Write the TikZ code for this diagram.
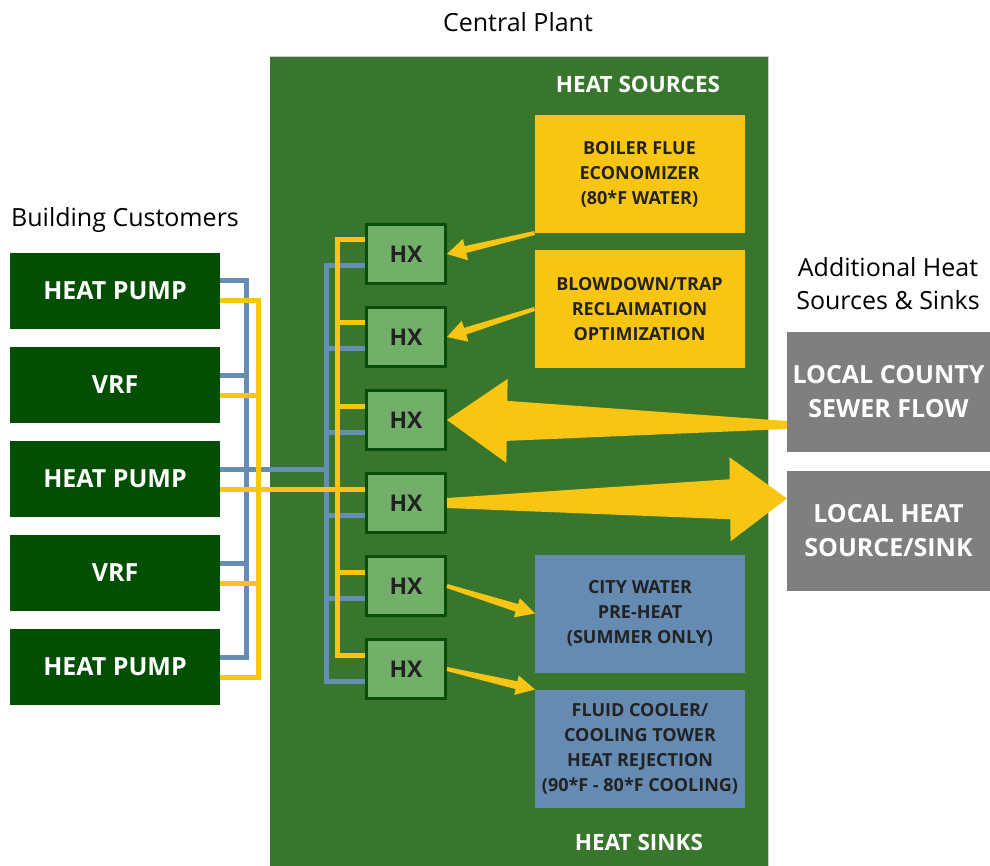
\documentclass[tikz,border=0pt]{standalone}
\usepackage{fontspec}
\setmainfont{Open Sans}
\usetikzlibrary{calc,positioning}

\definecolor{plantgreen}{RGB}{56,118,45}
\definecolor{custgreen}{RGB}{2,78,2}
\definecolor{hxfill}{RGB}{114,176,106}
\definecolor{hxborder}{RGB}{8,78,8}
\definecolor{heatyellow}{RGB}{248,198,18}
\definecolor{sinkblue}{RGB}{101,139,178}
\definecolor{pipeblue}{RGB}{102,142,180}
\definecolor{outgray}{RGB}{127,127,127}
\definecolor{textdark}{RGB}{34,34,34}

% tapered arrow: tail, tip, tail half width, shaft half width, head half width, head length
\newcommand{\fatarrow}[6]{%
  \path (#1) coordinate (fa-t) (#2) coordinate (fa-h);
  \path ($(fa-h)!#6pt!(fa-t)$) coordinate (fa-b);
  \fill[heatyellow]
    ($(fa-t)!#3pt!90:(fa-h)$) -- ($(fa-b)!#4pt!-90:(fa-t)$) -- ($(fa-b)!#5pt!-90:(fa-t)$)
    -- (fa-h) -- ($(fa-b)!#5pt!90:(fa-t)$) -- ($(fa-b)!#4pt!90:(fa-t)$)
    -- ($(fa-t)!#3pt!-90:(fa-h)$) -- cycle;}

\begin{document}
\begin{tikzpicture}[x=1pt, y=-1pt,
    customer/.style={fill=custgreen, text=white, minimum width=210, minimum height=76,
      outer sep=0, font=\fontsize{25}{30}\selectfont\bfseries},
    hx/.style={draw=hxborder, line width=3pt, fill=hxfill, minimum width=79, minimum height=59,
      text=textdark, font=\fontsize{23}{26}\selectfont\bfseries},
    source/.style={fill=heatyellow, minimum width=210, minimum height=118, align=center,
      outer sep=0, text=textdark, font=\fontsize{18}{25}\selectfont\bfseries},
    sink/.style={source, fill=sinkblue},
    outside/.style={fill=outgray, text=white, minimum width=203, minimum height=120, align=center,
      outer sep=0, font=\fontsize{25}{34}\selectfont\bfseries},
    heading/.style={text=white, font=\fontsize{22.5}{26}\selectfont\bfseries},
    title/.style={align=center, font=\fontsize{25}{33}\selectfont},
    bluepipe/.style={draw=pipeblue, line width=5pt},
    yellowpipe/.style={draw=heatyellow, line width=5pt},
    node distance=18pt]

    \useasboundingbox (0,0) rectangle (990,866);

    % central plant
    \fill[plantgreen] (270,56) rectangle (768,866);
    \draw[black!20, line width=0.8pt] (270,56) -- (768,56) -- (768,866);
    \node[title] (plant) at (518,22) {Central Plant};
    \node[heading] (sources) at (638,84) {HEAT SOURCES};
    \node[heading] (sinks) at (639,842) {HEAT SINKS};

    \node[source] (boiler) at (639.5,174) {BOILER FLUE\\ECONOMIZER\\(80*F WATER)};
    \node[source, below=17pt of boiler] (blowdown) {BLOWDOWN/TRAP\\RECLAIMATION\\OPTIMIZATION};
    \node[sink] (city) at (640,613.5) {CITY WATER\\PRE-HEAT\\(SUMMER ONLY)};
    \node[sink, below=17pt of city] (cooler) {FLUID COOLER/\\COOLING TOWER\\HEAT REJECTION\\(90*F - 80*F COOLING)};

    % building customers
    \node[title] (customers) at (125,220) {Building Customers};
    \node[customer] (hp1) at (115,291) {HEAT PUMP};
    \node[customer, below=of hp1] (vrf1) {VRF};
    \node[customer, below=of vrf1] (hp2) {HEAT PUMP};
    \node[customer, below=of hp2] (vrf2) {VRF};
    \node[customer, below=of vrf2] (hp3) {HEAT PUMP};

    \node[hx] (hx1) at (406,254) {HX};
    \node[hx, below=21pt of hx1] (hx2) {HX};
    \node[hx, below=21pt of hx2] (hx3) {HX};
    \node[hx, below=21pt of hx3] (hx4) {HX};
    \node[hx, below=21pt of hx4] (hx5) {HX};
    \node[hx, below=21pt of hx5] (hx6) {HX};

    % piping
    \draw[bluepipe] ($(hp1.east)+(0,-10)$) -- ++(26,0) |- ($(hp3.east)+(0,-10)$);
    \foreach \cust in {vrf1,vrf2}
      \draw[bluepipe] ($(\cust.east)+(0,-10)$) -- ++(26,0);
    \draw[bluepipe] ($(hp2.east)+(0,-10)$) -- ++(106,0);
    \draw[bluepipe] ($(hx1.west)+(0,12)$) -- ++(-39,0) |- ($(hx6.west)+(0,12)$);
    \foreach \h in {hx2,hx3,hx4,hx5}
      \draw[bluepipe] ($(\h.west)+(0,12)$) -- ++(-39,0);

    \draw[yellowpipe] ($(hp1.east)+(0,10)$) -- ++(38,0) |- ($(hp3.east)+(0,10)$);
    \foreach \cust in {vrf1,vrf2}
      \draw[yellowpipe] ($(\cust.east)+(0,10)$) -- ++(38,0);
    \draw[yellowpipe] ($(hp2.east)+(0,10)$) -- ($(hx4.west)+(0,-14)$);
    \draw[yellowpipe] ($(hx1.west)+(0,-14)$) -- ++(-28,0) |- ($(hx6.west)+(0,-14)$);
    \foreach \h in {hx2,hx3,hx5}
      \draw[yellowpipe] ($(\h.west)+(0,-14)$) -- ++(-28,0);

    % outside sources and sinks
    \node[title] (additional) at (888,284) {Additional Heat\\Sources \& Sinks};
    \node[outside] (sewer) at (888.5,392) {LOCAL COUNTY\\SEWER FLOW};
    \node[outside] (localsink) at (888.5,530.5) {LOCAL HEAT\\SOURCE/SINK};

    % heat flow
    \fatarrow{boiler.south west}{hx1.east}{2}{3.5}{11}{19}
    \fatarrow{blowdown.west}{hx2.east}{2}{3.5}{11}{19}
    \fatarrow{$(sewer.south west)+(0,-27)$}{hx3.east}{4}{20}{42}{60}
    \fatarrow{hx4.east}{$(localsink.west)+(0,-32)$}{5}{20}{42}{57}
    \fatarrow{hx5.east}{city.west}{2}{4}{10}{19}
    \fatarrow{hx6.east}{cooler.north west}{2}{4}{10}{19}

\end{tikzpicture}
\end{document}
